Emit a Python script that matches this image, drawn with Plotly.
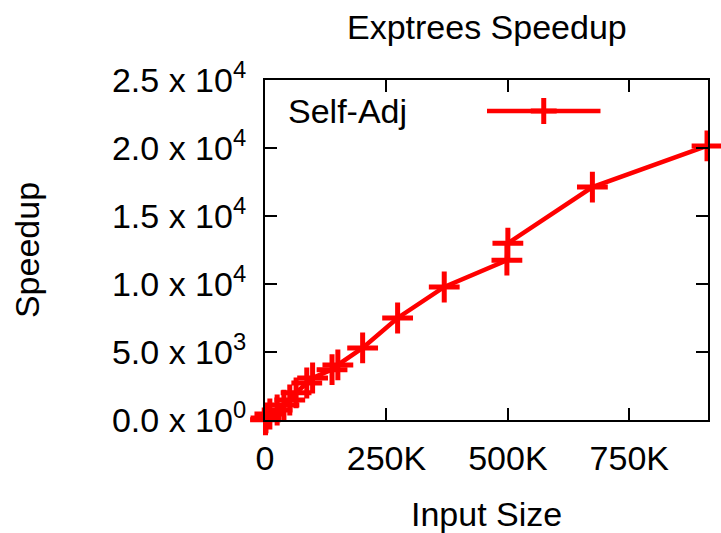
import plotly.graph_objects as go

# Data (input size, speedup)
input_size = [1000, 2000, 10000, 25000, 39000, 51000, 64000, 86000, 98000,
              138000, 150000, 201000, 273000, 369000, 498000, 500000, 674000, 910000]
speedup = [10, 150, 440, 735, 1100, 1470, 2000, 2720, 3090,
           3700, 4050, 5300, 7500, 9780, 11750, 13000, 17130, 20150]

x_tickvals = [0, 250000, 500000, 750000]
x_ticktext = ["0", "250K", "500K", "750K"]
y_tickvals = [0, 5000, 10000, 15000, 20000, 25000]
y_ticktext = ["0.0 x 10<sup>0</sup>", "5.0 x 10<sup>3</sup>", "1.0 x 10<sup>4</sup>",
              "1.5 x 10<sup>4</sup>", "2.0 x 10<sup>4</sup>", "2.5 x 10<sup>4</sup>"]

series_name = "Self-Adj"
RED = "#ff0000"
FONT = "Liberation Sans, Arial, sans-serif"
FS = 34

fig = go.Figure()
fig.add_trace(go.Scatter(
    x=input_size, y=speedup, mode="lines+markers", name=series_name,
    line=dict(color=RED, width=4.5),
    marker=dict(symbol="cross-thin", size=22, color=RED,
                line=dict(color=RED, width=5)),
    cliponaxis=False, showlegend=False,
))

W, H = 721, 533
L, R, T, B = 265, 11, 80, 113
pw, ph = W - L - R, H - T - B

def px(xp):
    return (xp - L) / pw

def py(yp):
    return (H - B - yp) / ph

axis_common = dict(showline=True, linewidth=2, linecolor="black", mirror="allticks",
                   ticks="inside", ticklen=12, tickwidth=2, tickcolor="black",
                   showgrid=False, zeroline=False,
                   tickfont=dict(family=FONT, size=FS, color="black"))

fig.update_layout(
    width=W, height=H,
    margin=dict(l=L, r=R, t=T, b=B, pad=0),
    paper_bgcolor="white", plot_bgcolor="white",
    font=dict(family=FONT, size=FS, color="black"),
    xaxis=dict(range=[0, 912000], tickvals=x_tickvals, ticktext=x_ticktext,
               ticklabelstandoff=7, **axis_common),
    yaxis=dict(range=[0, 25000], tickvals=y_tickvals, ticktext=y_ticktext,
               ticklabelstandoff=10, **axis_common),
    showlegend=False,
    annotations=[
        dict(text="Exptrees Speedup", xref="paper", yref="paper", x=0.5, y=py(27),
             xanchor="center", yanchor="middle", showarrow=False,
             font=dict(family=FONT, size=FS)),
        dict(text="Input Size", xref="paper", yref="paper", x=0.5, y=py(514),
             xanchor="center", yanchor="middle", showarrow=False,
             font=dict(family=FONT, size=FS)),
        dict(text="Speedup", xref="paper", yref="paper", x=px(26), y=0.5,
             xanchor="center", yanchor="middle", showarrow=False, textangle=-90,
             font=dict(family=FONT, size=FS)),
        dict(text=series_name, xref="paper", yref="paper", x=px(286), y=py(111),
             xanchor="left", yanchor="middle", showarrow=False,
             font=dict(family=FONT, size=FS)),
    ],
    shapes=[
        dict(type="line", xref="paper", yref="paper", x0=px(488), x1=px(602),
             y0=py(111), y1=py(111), line=dict(color=RED, width=4.5)),
        dict(type="line", xref="paper", yref="paper", x0=px(532), x1=px(558),
             y0=py(111), y1=py(111), line=dict(color=RED, width=5)),
        dict(type="line", xref="paper", yref="paper", x0=px(545), x1=px(545),
             y0=py(98), y1=py(124), line=dict(color=RED, width=5)),
    ],
)

fig.write_html("out.html")
